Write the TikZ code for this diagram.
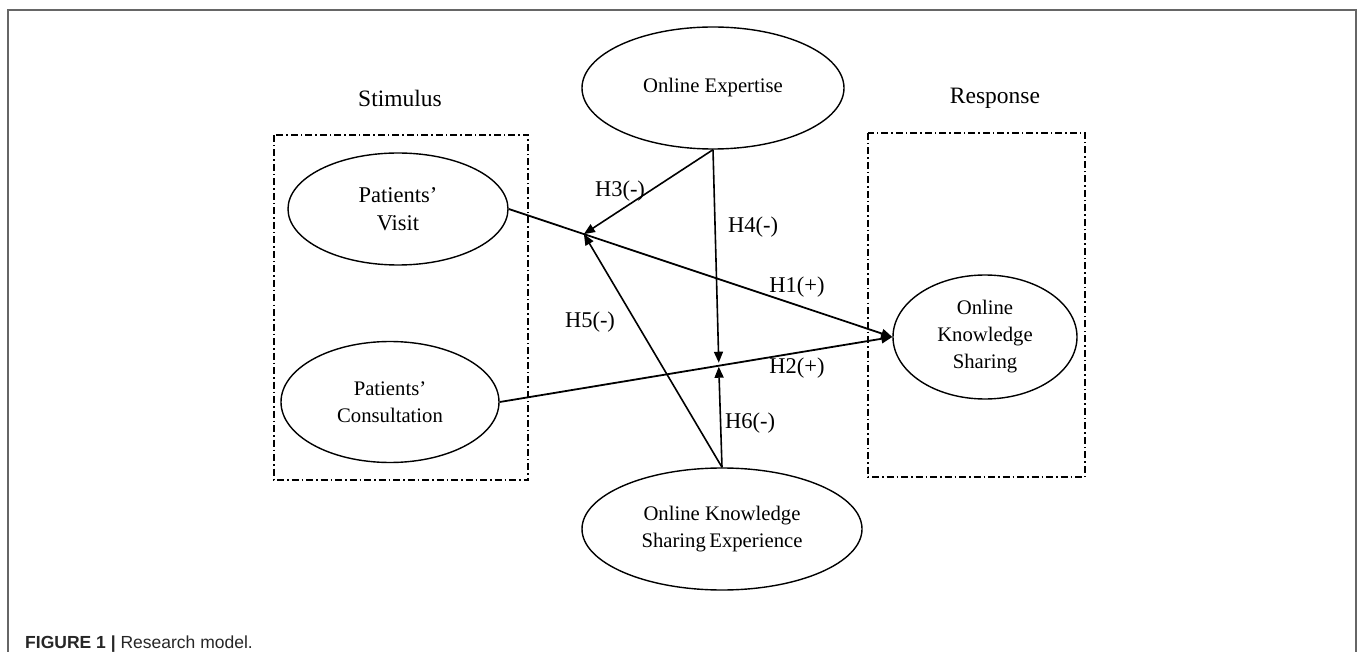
\documentclass[tikz,border=0pt]{standalone}
\usepackage{fontspec}
\setmainfont{Liberation Serif}
\newfontfamily\capfont{Liberation Sans}
\usetikzlibrary{shapes.geometric,arrows.meta,calc}
\begin{document}
\begin{tikzpicture}[x=1pt,y=-1pt,
  construct/.style={draw,ellipse,line width=1.4pt,inner sep=0pt,align=center,
    font=\fontsize{20.7}{27}\selectfont},
  groupbox/.style={draw,line width=1.3pt,dash pattern=on 7pt off 3pt on 1.5pt off 3pt},
  grouplabel/.style={font=\fontsize{23.5}{28}\selectfont},
  hyp/.style={line width=1.6pt,-{Triangle[length=11pt,width=9pt]}},
  hlabel/.style={font=\fontsize{22.5}{26}\selectfont,inner sep=0pt}]
\useasboundingbox (0,0) rectangle (1357,652);
% outer frame
\draw[line width=2pt,black!60] (8,652) -- (8,10) -- (1356,10) -- (1356,652);
% group boxes
\draw[groupbox] (274,135) rectangle (528,480);
\draw[groupbox] (868,133) rectangle (1085,477);
\node[grouplabel] (stim) at (400,98) {Stimulus};
\node[grouplabel] (resp) at (995,98) {Response};
% constructs
\node[construct,minimum width=262pt,minimum height=122pt] (oe) at (713,88) {Online Expertise};
\node[construct,minimum width=220pt,minimum height=112pt,font=\fontsize{22.5}{28}\selectfont] (pv) at (398,209) {Patients'\\Visit};
\node[construct,minimum width=218pt,minimum height=121pt] (pc) at (390,402) {Patients'\\Consultation};
\node[construct,minimum width=184pt,minimum height=124pt] (oks) at (985,337) {Online\\Knowledge\\Sharing};
\node[construct,minimum width=280pt,minimum height=122pt] (okse) at (722,529) {Online Knowledge\\Sharing\,Experience};
% connection points
\coordinate (m1) at ($(pv.east)!0.196!(oks.west)$);
\coordinate (m2) at ($(pc.east)!0.558!(oks.west)$);
% main paths
\draw[hyp,line width=1.8pt] (pv.east) -- (oks.west);
\draw[hyp,line width=1.8pt] (pc.east) -- (oks.west);
% moderators
\draw[hyp] (oe.south) -- (m1);
\draw[hyp] (okse.north) -- (m1);
\draw[hyp] (oe.south) -- ($(m2)+(0,-3)$);
\draw[hyp] (okse.north) -- ($(m2)+(0,1)$);
% labels
\node[hlabel] (l3) at (620,191) {H3(-)};
\node[hlabel] (l4) at (753,227) {H4(-)};
\node[hlabel] (l1) at (797,287) {H1(+)};
\node[hlabel] (l5) at (590,322) {H5(-)};
\node[hlabel] (l2) at (797,368) {H2(+)};
\node[hlabel] (l6) at (750,423) {H6(-)};
% caption
\node[anchor=base west,inner sep=0pt,font=\capfont\fontsize{17.5}{20}\selectfont,text=black!85] (cap) at (25,648)
  {\textbf{FIGURE 1} \textbf{|} Research model.};
\end{tikzpicture}
\end{document}
